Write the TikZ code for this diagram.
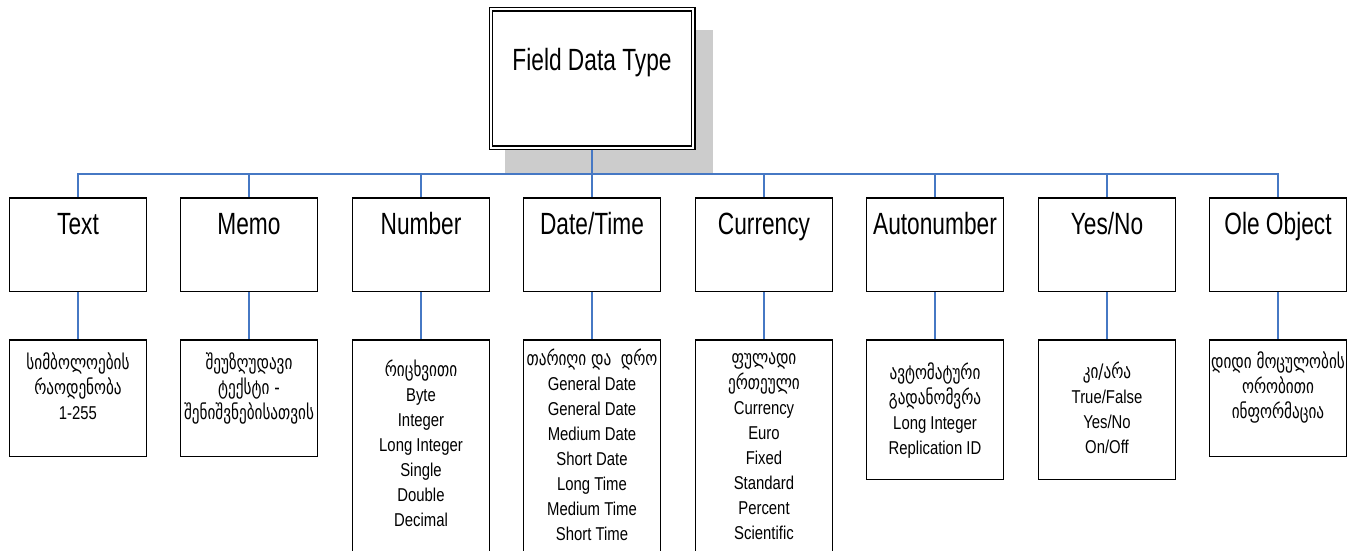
\documentclass[tikz,border=0pt]{standalone}
\usepackage{fontspec}
\setmainfont{Liberation Sans}
\newfontfamily\bigf{Liberation Sans}[FakeStretch=0.74]
\newfontfamily\smf{Liberation Sans}[FakeStretch=0.8]
\newfontfamily\geo{DejaVu Sans}[FakeStretch=0.76]
\usetikzlibrary{backgrounds}
\definecolor{connc}{RGB}{70,120,196}
\definecolor{shadec}{RGB}{204,204,204}
\newcommand\lnst{\rule[-7pt]{0pt}{25pt}}
\newcommand\geoline[1]{{\lnst\fontsize{20}{25}\geo #1}}
\newcommand\latline[1]{{\lnst #1}}
\tikzset{
 conn/.style={draw=connc, line width=2pt},
 topbox/.style={draw, line width=1.2pt, double=white, double distance=2.2pt, fill=white,
   minimum width=202.4pt, minimum height=138.4pt, inner sep=0pt,
   font=\fontsize{30.7}{36}\bigf, text height=22pt, text depth=38pt},
 catbox/.style={draw, line width=1.5pt, fill=white, minimum width=137pt, minimum height=93.5pt,
   inner sep=0pt, font=\fontsize{30.7}{36}\bigf, text height=22pt, text depth=43pt},
 subbox/.style={draw, line width=1.5pt, fill=white, minimum width=137pt, inner sep=0pt},
 subtxt/.style={align=center, font=\fontsize{18.6}{25}\smf, inner sep=0pt},
}
\begin{document}
\begin{tikzpicture}[x=1pt,y=-1pt]
\useasboundingbox (0,0) rectangle (1360,550);
\node[topbox] (root) at (592,78.5) {Field Data Type};
\coordinate (bus) at (592,174);
% categories
\node[catbox] (c1) at (78,244.5) {Text};
\node[catbox] (c2) at (249,244.5) {Memo};
\node[catbox] (c3) at (421,244.5) {Number};
\node[catbox] (c4) at (592,244.5) {Date/Time};
\node[catbox] (c5) at (764,244.5) {Currency};
\node[catbox] (c6) at (935,244.5) {Autonumber};
\node[catbox] (c7) at (1107,244.5) {Yes/No};
\node[catbox] (c8) at (1278,244.5) {Ole Object};
% sub boxes
\node[subbox, minimum height=116.5pt] (s1) at (78,398) {};
\node[subbox, minimum height=116.5pt] (s2) at (249,398) {};
\node[subbox, minimum height=220pt] (s3) at (421,449.75) {};
\node[subbox, minimum height=220pt] (s4) at (592,449.75) {};
\node[subbox, minimum height=220pt] (s5) at (764,449.75) {};
\node[subbox, minimum height=139.5pt] (s6) at (935,409.5) {};
\node[subbox, minimum height=139.5pt] (s7) at (1107,409.5) {};
\node[subbox, minimum height=116.5pt] (s8) at (1278,398) {};
% texts
\node[subtxt] (t1) at (78,388.7) {\geoline{სიმბოლოების}\\\geoline{რაოდენობა}\\\latline{1-255}};
\node[subtxt] (t2) at (249,388.7) {\geoline{შეუზღუდავი}\\\geoline{ტექსტი -}\\\geoline{შენიშვნებისათვის}};
\node[subtxt] (t3) at (421,446.2) {\geoline{რიცხვითი}\\\latline{Byte}\\\latline{Integer}\\\latline{Long Integer}\\\latline{Single}\\\latline{Double}\\\latline{Decimal}};
\node[subtxt] (t4) at (592,447) {\geoline{თარიღი და\ \ დრო}\\\latline{General Date}\\\latline{General Date}\\\latline{Medium Date}\\\latline{Short Date}\\\latline{Long Time}\\\latline{Medium Time}\\\latline{Short Time}};
\node[subtxt] (t5) at (764,446.7) {\geoline{ფულადი}\\\geoline{ერთეული}\\\latline{Currency}\\\latline{Euro}\\\latline{Fixed}\\\latline{Standard}\\\latline{Percent}\\\latline{Scientific}};
\node[subtxt] (t6) at (935,411.7) {\geoline{ავტომატური}\\\geoline{გადანომვრა}\\\latline{Long Integer}\\\latline{Replication ID}};
\node[subtxt] (t7) at (1107,410.7) {\geoline{კი/არა}\\\latline{True/False}\\\latline{Yes/No}\\\latline{On/Off}};
\node[subtxt] (t8) at (1278,388.2) {\geoline{დიდი მოცულობის}\\\geoline{ორობითი}\\\geoline{ინფორმაცია}};
\begin{scope}[on background layer]
\fill[shadec] ([xshift=14.7pt,yshift=-21.7pt]root.north west) rectangle ([xshift=19.3pt,yshift=-26.3pt]root.south east);
\draw[conn] (root.south) -- (bus);
\foreach \i in {1,...,8}{
  \draw[conn] (bus) -| (c\i.north);
  \draw[conn] (c\i.south) -- (s\i.north);
}
\end{scope}
\end{tikzpicture}
\end{document}
